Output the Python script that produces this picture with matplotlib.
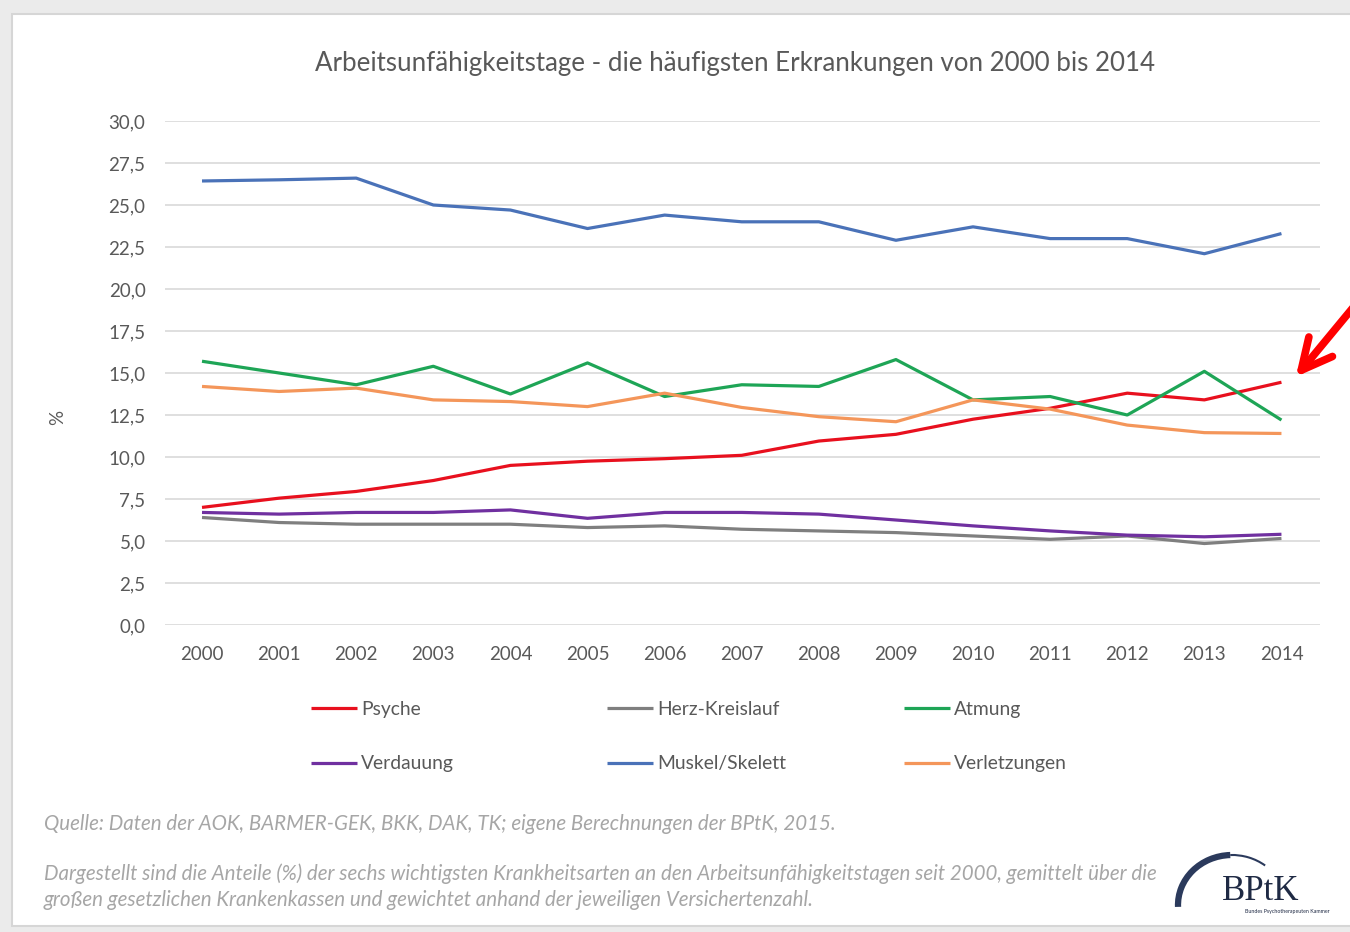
import matplotlib
matplotlib.use("Agg")
import matplotlib.pyplot as plt
from matplotlib.patches import Rectangle, Arc, FancyArrowPatch

plt.rcParams['font.family'] = ['Lato', 'DejaVu Sans']

years = list(range(2000, 2015))
psyche = [7.0, 7.55, 7.95, 8.6, 9.5, 9.75, 9.9, 10.1, 10.95, 11.35, 12.25, 12.9, 13.8, 13.4, 14.45]
herz = [6.4, 6.1, 6.0, 6.0, 6.0, 5.8, 5.9, 5.7, 5.6, 5.5, 5.3, 5.1, 5.3, 4.85, 5.15]
atmung = [15.7, 15.0, 14.3, 15.4, 13.75, 15.6, 13.6, 14.3, 14.2, 15.8, 13.4, 13.6, 12.5, 15.1, 12.2]
verdauung = [6.7, 6.6, 6.7, 6.7, 6.85, 6.35, 6.7, 6.7, 6.6, 6.25, 5.9, 5.6, 5.35, 5.25, 5.4]
muskel = [26.43, 26.5, 26.6, 25.0, 24.7, 23.6, 24.4, 24.0, 24.0, 22.9, 23.7, 23.0, 23.0, 22.1, 23.3]
verletzungen = [14.2, 13.9, 14.1, 13.4, 13.3, 13.0, 13.8, 12.95, 12.4, 12.1, 13.4, 12.85, 11.9, 11.45, 11.4]
yticks = [0, 2.5, 5, 7.5, 10, 12.5, 15, 17.5, 20, 22.5, 25, 27.5, 30]
ytick_labels = ["0,0", "2,5", "5,0", "7,5", "10,0", "12,5", "15,0", "17,5", "20,0", "22,5", "25,0", "27,5", "30,0"]

series = [
    ("Psyche", psyche, "#e8101e"),
    ("Herz-Kreislauf", herz, "#7f7f7f"),
    ("Atmung", atmung, "#1ea556"),
    ("Verdauung", verdauung, "#7030a0"),
    ("Muskel/Skelett", muskel, "#4a72b8"),
    ("Verletzungen", verletzungen, "#f4965a"),
]

W, H = 1350, 932
fig = plt.figure(figsize=(W / 100, H / 100), dpi=100)
fig.patch.set_facecolor("#ebebeb")
fig.patches.append(Rectangle((12 / W, 1 - 926 / H), (W + 10 - 12) / W, (926 - 14) / H,
                             transform=fig.transFigure, facecolor="white",
                             edgecolor="#d6d6d6", lw=1.5, zorder=-5))

ax = fig.add_axes([165 / W, 1 - 625 / H, (1320 - 165) / W, (625 - 121) / H])
ax.set_facecolor("white")
handles = {}
for name, vals, col in series:
    h, = ax.plot(years, vals, color=col, lw=2.3, solid_capstyle="butt", zorder=3)
    handles[name] = h

ax.set_xlim(1999.52, 2014.5)
ax.set_ylim(0, 30)
ax.set_yticks(yticks)
ax.set_yticklabels(ytick_labels)
ax.set_xticks(years)
ax.set_xticklabels([str(y) for y in years])
ax.tick_params(length=0, labelsize=13.5, colors="#595959")
ax.tick_params(axis="y", pad=14)
ax.tick_params(axis="x", pad=15)
for s in ax.spines.values():
    s.set_visible(False)
ax.grid(axis="y", color="#d9d9d9", lw=1.2, zorder=0)
fig.text(58 / W, 1 - 417 / H, "%", rotation=90, ha="center", va="center",
         fontsize=13.5, color="#595959")

fig.text(735 / W, 1 - 63 / H, "Arbeitsunfähigkeitstage - die häufigsten Erkrankungen von 2000 bis 2014",
         ha="center", va="center", fontsize=18.6, color="#595959")

# legends: three columns, two rows
col_x = [311, 607, 904]
pairs = [("Psyche", "Verdauung"), ("Herz-Kreislauf", "Muskel/Skelett"), ("Atmung", "Verletzungen")]
for cx, (a, b) in zip(col_x, pairs):
    fig.legend([handles[a], handles[b]], [a, b], loc="upper left",
               bbox_to_anchor=(cx / W, 1 - 701 / H), frameon=False,
               fontsize=13.9, handlelength=2.4, handletextpad=0.2,
               labelspacing=1.94, borderpad=0, borderaxespad=0, labelcolor="#595959")

fig.text(44 / W, 1 - 824 / H,
         "Quelle: Daten der AOK, BARMER-GEK, BKK, DAK, TK; eigene Berechnungen der BPtK, 2015.",
         ha="left", va="center", fontsize=14.8, style="italic", color="#a6a6a6")
fig.text(44 / W, 1 - 874 / H,
         "Dargestellt sind die Anteile (%) der sechs wichtigsten Krankheitsarten an den Arbeitsunfähigkeitstagen seit 2000, gemittelt über die",
         ha="left", va="center", fontsize=14.8, style="italic", color="#a6a6a6")
fig.text(44 / W, 1 - 900 / H,
         "großen gesetzlichen Krankenkassen und gewichtet anhand der jeweiligen Versichertenzahl.",
         ha="left", va="center", fontsize=14.8, style="italic", color="#a6a6a6")

# logo
lax = fig.add_axes([1170 / W, 1 - 925 / H, 180 / W, 75 / H])
lax.set_xlim(0, 180)
lax.set_ylim(0, 75)
lax.axis("off")
lax.add_patch(Arc((62, 20), 108, 100, theta1=92, theta2=182, color="#2b3a5c", lw=4.5,
                  clip_on=False))
lax.add_patch(Arc((62, 20), 108, 100, theta1=50, theta2=92, color="#2b3a5c", lw=1.5,
                  clip_on=False))
lax.text(52, 34, "BPtK", fontsize=25, family="Liberation Serif", color="#1f2a44",
         ha="left", va="center")
lax.text(75, 13, "Bundes Psychotherapeuten Kammer", fontsize=3.8, color="#1f2a44",
         ha="left", va="center")

# red arrow
fig.patches.append(FancyArrowPatch(
    (1356 / W, 1 - 304 / H), (1294 / W, 1 - 379 / H), transform=fig.transFigure,
    arrowstyle="->,head_length=22,head_width=11", color="#ff0000", lw=5.5,
    mutation_scale=1, capstyle="round", joinstyle="round"))

fig.savefig("out.png", dpi=100, facecolor=fig.get_facecolor())
